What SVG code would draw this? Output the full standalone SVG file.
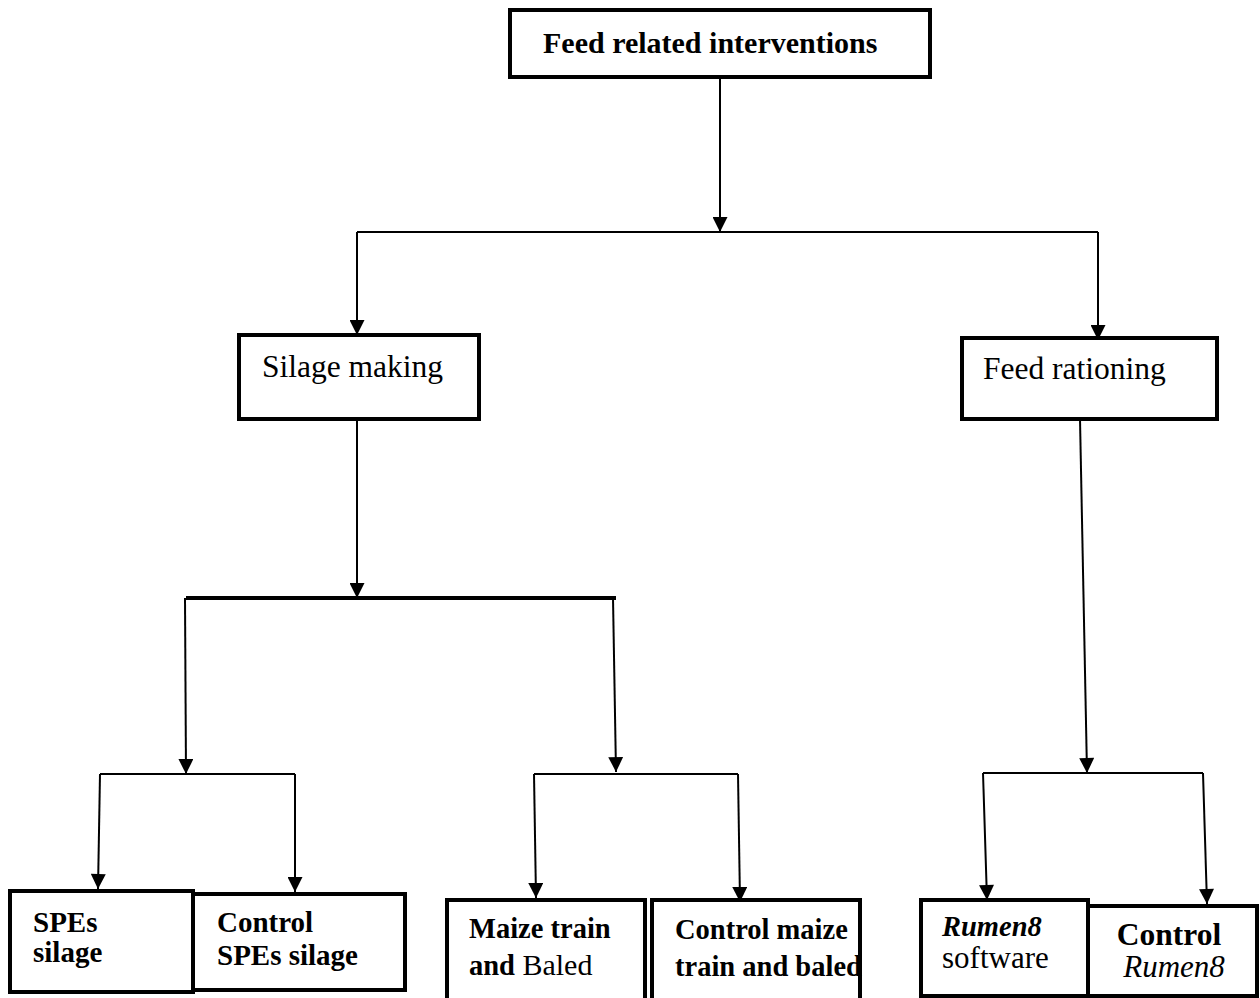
<svg xmlns="http://www.w3.org/2000/svg" width="1260" height="998" viewBox="0 0 1260 998">
<defs>
<marker id="arr" viewBox="0 0 10 10" refX="10" refY="5" markerWidth="16" markerHeight="15" markerUnits="userSpaceOnUse" orient="auto">
<path d="M0,0 L10,5 L0,10 z" fill="#000"/>
</marker>
</defs>
<style>
.box{fill:#fff;stroke:#000;stroke-width:4}
.c{fill:none;stroke:#000;stroke-width:2}
.ca{fill:none;stroke:#000;stroke-width:2;marker-end:url(#arr)}
.t{font-family:"Liberation Serif","Times New Roman",serif;fill:#000}
.b{font-weight:bold}
.i{font-style:italic}
</style>
<rect width="1260" height="998" fill="#fff"/>
<g id="connectors">
<line class="ca" x1="720" y1="77" x2="720" y2="232"/>
<line class="c" x1="357" y1="232" x2="1098" y2="232"/>
<line class="ca" x1="357" y1="232" x2="357" y2="335"/>
<line class="ca" x1="1098" y1="232" x2="1098" y2="340"/>
<line class="ca" x1="357" y1="419" x2="357" y2="598"/>
<line class="c" x1="186" y1="598" x2="616" y2="598" style="stroke-width:4"/>
<line class="ca" x1="185" y1="598" x2="186" y2="774"/>
<line class="ca" x1="613" y1="598" x2="616" y2="772"/>
<line class="c" x1="100" y1="774" x2="295" y2="774"/>
<line class="ca" x1="100" y1="774" x2="98" y2="889"/>
<line class="ca" x1="295" y1="774" x2="295" y2="892"/>
<line class="c" x1="534" y1="774" x2="738" y2="774"/>
<line class="ca" x1="534" y1="774" x2="536" y2="898"/>
<line class="ca" x1="738" y1="774" x2="740" y2="902"/>
<line class="ca" x1="1080" y1="419" x2="1087" y2="773"/>
<line class="c" x1="983" y1="773" x2="1203" y2="773"/>
<line class="ca" x1="983" y1="773" x2="987" y2="900"/>
<line class="ca" x1="1203" y1="773" x2="1207" y2="904"/>
</g>
<g id="n-feed">
<rect class="box" x="510" y="10" width="420" height="67"/>
<text class="t b" x="543" y="53" font-size="30">Feed related interventions</text>
</g>
<g id="n-silage">
<rect class="box" x="239" y="335" width="240" height="84"/>
<text class="t" x="262" y="377" font-size="31.5">Silage making</text>
</g>
<g id="n-ration">
<rect class="box" x="962" y="338" width="255" height="81"/>
<text class="t" x="983" y="379" font-size="31.5">Feed rationing</text>
</g>
<g id="n-spes">
<rect class="box" x="10" y="891" width="183" height="101"/>
<text class="t b" x="33" y="932" font-size="29">SPEs</text>
<text class="t b" x="33" y="962" font-size="29">silage</text>
</g>
<g id="n-cspes">
<rect class="box" x="193" y="894" width="212" height="96"/>
<text class="t b" x="217" y="932" font-size="29">Control</text>
<text class="t b" x="217" y="965" font-size="29">SPEs silage</text>
</g>
<g id="n-maize">
<rect class="box" x="447" y="900" width="198" height="110"/>
<text class="t b" x="469" y="938" font-size="28.5">Maize train</text>
<text class="t" x="469" y="975" font-size="30"><tspan class="b" font-size="28.5">and</tspan> Baled</text>
</g>
<g id="n-cmaize">
<rect class="box" x="652" y="900" width="208" height="110"/>
<text class="t b" x="675" y="939" font-size="28.5">Control maize</text>
<text class="t b" x="675" y="976" font-size="28.5">train and baled</text>
</g>
<g id="n-rumen">
<rect class="box" x="921" y="900" width="167" height="96"/>
<text class="t b i" x="942" y="936" font-size="28.5">Rumen8</text>
<text class="t" x="942" y="968" font-size="31">software</text>
</g>
<g id="n-crumen">
<rect class="box" x="1088" y="906" width="169" height="90"/>
<text class="t b" x="1169" y="945" font-size="31.5" text-anchor="middle">Control</text>
<text class="t i" x="1174" y="977" font-size="31" text-anchor="middle">Rumen8</text>
</g>
</svg>
